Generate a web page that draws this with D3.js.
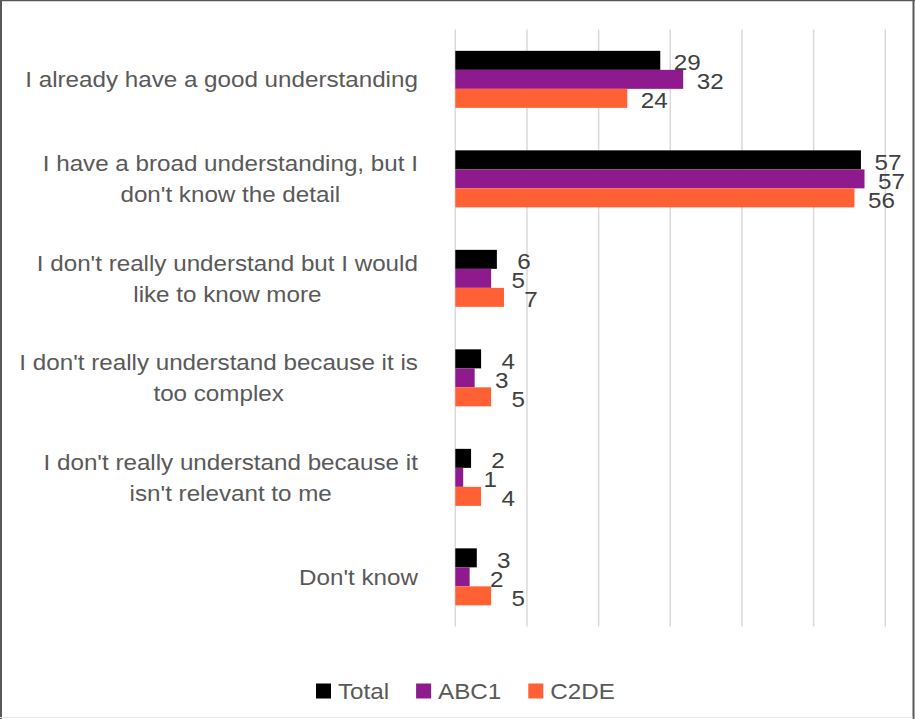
<!DOCTYPE html>
<html>
<head>
<meta charset="utf-8">
<script src="https://cdn.jsdelivr.net/npm/d3@7"></script>
<style>
  html, body { margin: 0; padding: 0; background: #fff; }
  svg { display: block; font-family: "Liberation Sans", Arial, sans-serif; }
</style>
</head>
<body>
<svg id="chart" width="915" height="719"></svg>
<script>
const categories = [
  ["I already have a good understanding"],
  ["I have a broad understanding, but I", "don't know the detail"],
  ["I don't really understand but I would", "like to know more"],
  ["I don't really understand because it is", "too complex"],
  ["I don't really understand because it", "isn't relevant to me"],
  ["Don't know"]
];
const seriesNames = ["Total", "ABC1", "C2DE"];
const totalValues = [28.6, 56.6, 5.8, 3.6, 2.2, 3.0];
const abc1Values  = [31.8, 57.1, 5.0, 2.7, 1.1, 2.0];
const c2deValues  = [24.0, 55.7, 6.8, 5.0, 3.6, 5.0];
const seriesColors = ["#000000", "#8E1A8E", "#FF6135"];
const xTicks = [0, 10, 20, 30, 40, 50, 60];

const seriesValues = [totalValues, abc1Values, c2deValues];
const catIds = categories.map((c, i) => i);
const SX = 1.1; // horizontal text stretch seen in the reference

const svg = d3.select("#chart");

// frame
svg.append("line").attr("x1", 0).attr("x2", 915).attr("y1", 0.5).attr("y2", 0.5).attr("stroke", "#595959").attr("stroke-width", 1.5);
svg.append("line").attr("x1", 1).attr("x2", 1).attr("y1", 0).attr("y2", 719).attr("stroke", "#595959").attr("stroke-width", 2);
svg.append("line").attr("x1", 913.5).attr("x2", 913.5).attr("y1", 0).attr("y2", 719).attr("stroke", "#595959").attr("stroke-width", 2);
svg.append("line").attr("x1", 0).attr("x2", 913).attr("y1", 717.5).attr("y2", 717.5).attr("stroke", "#e6e6e6").attr("stroke-width", 1);

const x = d3.scaleLinear().domain([0, 60]).range([455.3, 885.3]);
const y = d3.scaleBand().domain(catIds).range([29.6, 626.6]).paddingInner(0.427).paddingOuter(0.2135);
const ys = d3.scaleBand().domain(seriesNames).range([0, y.bandwidth()]);

// gridlines
svg.append("g").selectAll("line").data(xTicks).join("line")
  .attr("x1", d => x(d)).attr("x2", d => x(d))
  .attr("y1", 29.6).attr("y2", 626.6)
  .attr("stroke", "#d9d9d9").attr("stroke-width", 1.5);

// bars
seriesNames.forEach((s, si) => {
  const g = svg.append("g");
  g.selectAll("rect").data(seriesValues[si]).join("rect")
    .attr("x", x(0))
    .attr("y", (d, i) => y(i) + ys(s))
    .attr("width", d => x(d) - x(0))
    .attr("height", ys.bandwidth())
    .attr("fill", seriesColors[si]);
  g.selectAll("text").data(seriesValues[si]).join("text")
    .attr("transform", (d, i) => `translate(${x(d) + 27},${y(i) + ys(s) + ys.bandwidth() / 2 + 2.5}) scale(${SX},1)`)
    .attr("text-anchor", "middle")
    .attr("dominant-baseline", "central")
    .attr("font-size", 22)
    .attr("fill", "#404040")
    .text(d => Math.round(d));
});

// category labels
const labelRight = 418;
const lineH = 31;
catIds.forEach(i => {
  const lines = categories[i];
  const t = svg.append("text").attr("font-size", 22).attr("fill", "#595959").attr("text-anchor", "middle");
  const tspans = lines.map(ln => t.append("tspan").text(ln));
  const maxW = d3.max(tspans, ts => ts.node().getComputedTextLength()) * SX;
  const cy = y(i) + y.bandwidth() / 2;
  t.attr("transform", `translate(${labelRight - maxW / 2},${cy}) scale(${SX},1)`);
  tspans.forEach((ts, li) => {
    ts.attr("x", 0).attr("y", 8 + (li - (lines.length - 1) / 2) * lineH);
  });
});

// legend
const legend = svg.append("g");
let lx = 316;
seriesNames.forEach((s, si) => {
  legend.append("rect").attr("x", lx).attr("y", 683.5).attr("width", 15).attr("height", 15).attr("fill", seriesColors[si]);
  const t = legend.append("text").attr("transform", `translate(${lx + 22},699) scale(${SX},1)`)
    .attr("font-size", 22).attr("fill", "#595959").text(s);
  lx = lx + 22 + t.node().getComputedTextLength() * SX + 27;
});
</script>
</body>
</html>
